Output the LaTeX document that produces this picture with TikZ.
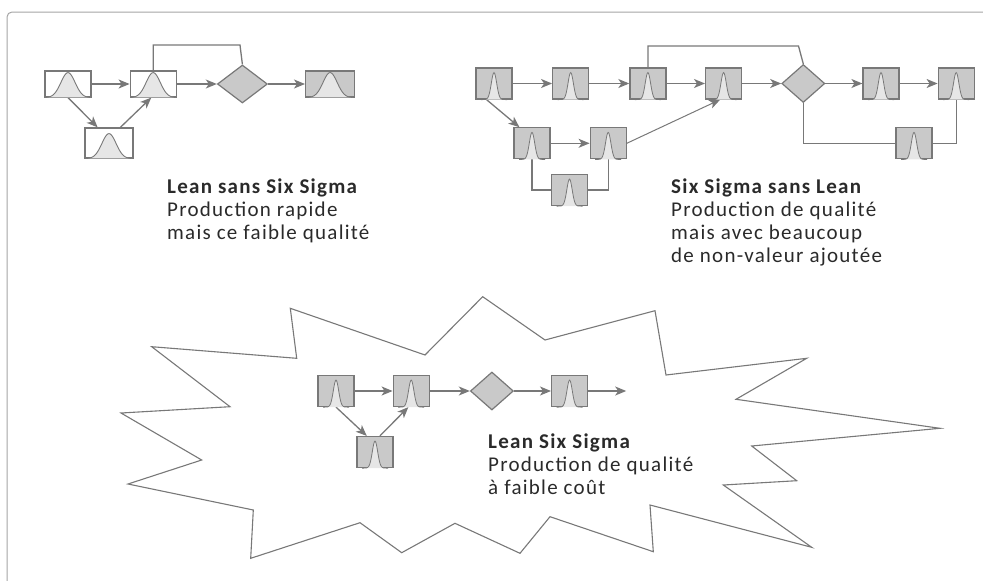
\documentclass[tikz,border=0pt]{standalone}
\usepackage{fontspec}
\setmainfont{Carlito}[LetterSpace=6]
\usetikzlibrary{arrows.meta,positioning,shapes.geometric}

\definecolor{linegray}{HTML}{787878}
\definecolor{boxgray}{HTML}{C9C9C9}
\definecolor{bellgray}{HTML}{E6E6E6}
\definecolor{framegray}{HTML}{A5A5A5}
\definecolor{inkgray}{HTML}{2A2A2A}

\begin{document}
\begin{tikzpicture}[x=1pt,y=-1pt,>={Stealth[length=11pt,width=9pt,inset=3pt]},
                    line join=miter]
  \tikzstyle{wbox}=[rectangle,draw=linegray,fill=white,line width=1.2pt,inner sep=0pt,
                    minimum width=46pt,minimum height=26pt]
  \tikzstyle{gbox}=[rectangle,draw=linegray,fill=boxgray,line width=1.2pt,inner sep=0pt,
                    minimum width=36pt,minimum height=31pt]
  \tikzstyle{decision}=[diamond,draw=linegray,fill=boxgray,line width=1.2pt,inner sep=0pt,
                    minimum width=43pt,minimum height=38pt]
  \tikzstyle{bell}=[draw=linegray,fill=bellgray,line width=0.9pt]
  \tikzstyle{flow}=[->,draw=linegray,line width=1.3pt]
  \tikzstyle{link}=[-,draw=linegray,line width=1.3pt]
  \tikzstyle{caption}=[anchor=base west,align=left,inner sep=0pt,text=inkgray,
                    font=\fontsize{21}{23.3}\selectfont]

  \useasboundingbox (0,0) rectangle (983,581);
  \draw[framegray,line width=1pt,rounded corners=5pt] (7,581) -- (7,12) -- (983,12);

  % Lean sans Six Sigma
  \node[wbox] (A) at (68,84) {};
  \node[wbox] (B) [right=38pt of A] {};
  \node[decision,minimum width=50pt] (dia1) [right=40pt of B] {};
  \node[wbox,fill=boxgray,minimum width=49pt] (D) [right=37pt of dia1] {};
  \node[wbox,minimum width=48pt,minimum height=30pt] (C) at (109,143) {};
  \coordinate (lt1) at (240,45);

  \path (A) edge[flow] (B)
        (B) edge[flow] (dia1)
        (dia1) edge[flow] (D)
        (A.south) edge[flow] (C.126)
        (C.54) edge[flow] (B.262);
  \draw[link] (B.north) |- (lt1) -- (dia1.north);

  % Six Sigma sans Lean
  \node[gbox] (R1) at (494,83.5) {};
  \node[gbox] (R2) [right=39.5pt of R1] {};
  \node[gbox] (R3) [right=40pt of R2] {};
  \node[gbox] (R4) [right=38.5pt of R3] {};
  \node[decision] (dia2) [right=39pt of R4] {};
  \node[gbox] (R5) [right=37pt of dia2] {};
  \node[gbox] (R6) [right=38pt of R5] {};
  \node[gbox] (R7) at (532,143.3) {};
  \node[gbox] (R8) [right=39pt of R7] {};
  \node[gbox] (R9) at (569.5,190) {};
  \node[gbox] (R10) at (914,143.3) {};
  \coordinate (rt1) at (798.5,46);

  \path (R1) edge[flow] (R2)
        (R2) edge[flow] (R3)
        (R3) edge[flow] (R4)
        (R4) edge[flow] (dia2)
        (dia2) edge[flow] (R5)
        (R5) edge[flow] (R6)
        (R7) edge[flow] (R8)
        (R1.245) edge[flow] (R7.128)
        (R8.east) edge[flow,line width=1pt] (R4.258);
  \draw[link] (R3.north) |- (rt1) -- (dia2.north);
  \draw[link] (dia2.south) |- (R10.west);
  \draw[link] (R10.east) -| (R6.south);
  \draw[link] (R7.south) |- (R9.west);
  \draw[link] (R9.east) -| (R8.south);

  % Lean Six Sigma
  \draw[linegray,line width=1.1pt] (482.7,296.7) -- (545,340) -- (655,310.7) -- (666,375)
    -- (806.7,358.3) -- (736,399.3) -- (940,428.3) -- (751.7,446) -- (796.7,480.7)
    -- (723.3,485) -- (811.7,547.3) -- (650,505) -- (653.3,551.7) -- (550,516.7)
    -- (520,553.3) -- (455,523.3) -- (401.7,552.7) -- (360,522.7) -- (250.7,558.3)
    -- (253.3,510) -- (128,484) -- (201.7,460) -- (121,413) -- (230,406.7)
    -- (151.7,346.7) -- (296.7,358.3) -- (290.3,308.3) -- (425,355) -- cycle;

  \node[gbox] (B1) at (336,391) {};
  \node[gbox] (B2) [right=38pt of B1] {};
  \node[decision] (dia3) [right=40pt of B2] {};
  \node[gbox] (B4) [right=37pt of dia3] {};
  \coordinate[right=38pt of B4] (out);
  \node[gbox] (B3) at (375,452) {};

  \path (B1) edge[flow] (B2)
        (B2) edge[flow] (dia3)
        (dia3) edge[flow] (B4)
        (B4) edge[flow] (out)
        (B1.south) edge[flow] (B3.117)
        (B3.73) edge[flow] (B2.260);

  % bell curves in the boxes
  \foreach \n in {A,B,C,D}{
    \begin{scope}[shift={(\n.south)}]
      \filldraw[bell] plot[domain=-22.5:22.5,samples=45,smooth] (\x,{-25*exp(-((\x/10)^2))});
    \end{scope}}
  \foreach \n in {R1,R2,R3,R4,R5,R6,R7,R8,R9,R10,B1,B2,B3,B4}{
    \begin{scope}[shift={(\n.south)}]
      \filldraw[bell,line width=0.8pt] plot[domain=-13:13,samples=41,smooth] (\x,{-27*exp(-((\x/3.8)^2))});
    \end{scope}}

  % captions (anchored on the baseline of the last line)
  \node[caption] (leantxt) at (167,239.6) {\textbf{Lean sans Six Sigma}\\Production rapide\\mais ce faible qualité};
  \node[caption] (sixtxt) at (671,262.9) {\textbf{Six Sigma sans Lean}\\Production de qualité\\mais avec beaucoup\\de non-valeur ajoutée};
  \node[caption] (lsstxt) at (488,494.6) {\textbf{Lean Six Sigma}\\Production de qualité\\à faible coût};
\end{tikzpicture}
\end{document}
